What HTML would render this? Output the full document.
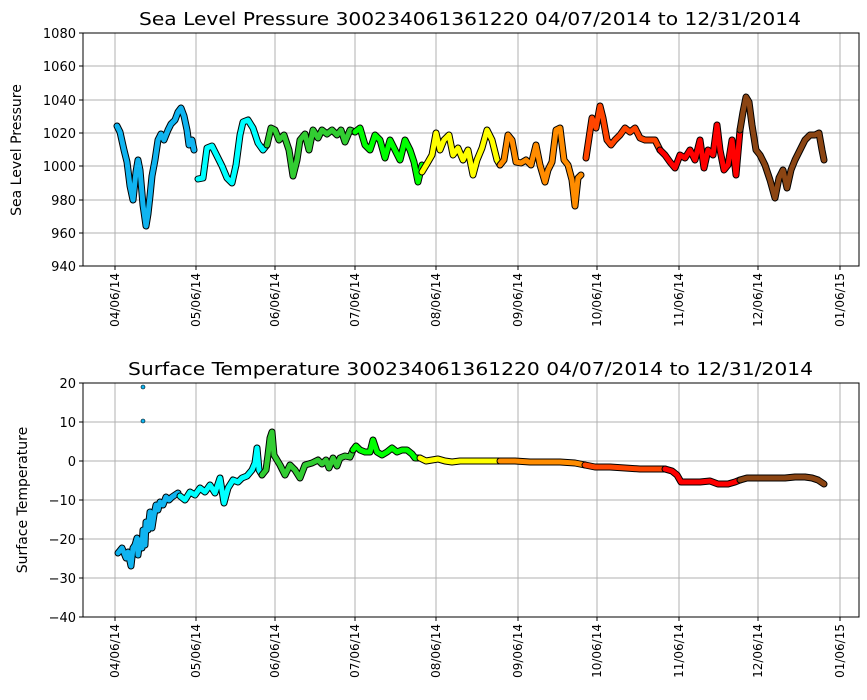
<!DOCTYPE html>
<html><head><meta charset="utf-8"><style>
body{margin:0;background:#fff;}
svg{display:block;font-family:"DejaVu Sans","Liberation Sans",sans-serif;}
.g{stroke:#b0b0b0;stroke-width:1;}
.o{fill:none;stroke:#000;stroke-width:7;stroke-linejoin:round;stroke-linecap:round;}
.c{fill:none;stroke-width:5;stroke-linejoin:round;stroke-linecap:round;}
.tl{font-size:12px;}
.tk{stroke:#000;stroke-width:1;}
</style></head><body>
<svg width="867" height="700" viewBox="0 0 867 700">
<rect width="867" height="700" fill="#fff"/>
<!-- TOP -->
<g class="g">
<line x1="115" y1="33" x2="115" y2="266"/><line x1="196" y1="33" x2="196" y2="266"/><line x1="275" y1="33" x2="275" y2="266"/><line x1="355" y1="33" x2="355" y2="266"/><line x1="436" y1="33" x2="436" y2="266"/><line x1="518" y1="33" x2="518" y2="266"/><line x1="597" y1="33" x2="597" y2="266"/><line x1="679" y1="33" x2="679" y2="266"/><line x1="758" y1="33" x2="758" y2="266"/><line x1="840" y1="33" x2="840" y2="266"/>
<line x1="83" y1="66" x2="859" y2="66"/><line x1="83" y1="100" x2="859" y2="100"/><line x1="83" y1="133" x2="859" y2="133"/><line x1="83" y1="166" x2="859" y2="166"/><line x1="83" y1="200" x2="859" y2="200"/><line x1="83" y1="233" x2="859" y2="233"/>
</g>
<g class="tk">
<line x1="115" y1="266" x2="115" y2="270"/><line x1="196" y1="266" x2="196" y2="270"/><line x1="275" y1="266" x2="275" y2="270"/><line x1="355" y1="266" x2="355" y2="270"/><line x1="436" y1="266" x2="436" y2="270"/><line x1="518" y1="266" x2="518" y2="270"/><line x1="597" y1="266" x2="597" y2="270"/><line x1="679" y1="266" x2="679" y2="270"/><line x1="758" y1="266" x2="758" y2="270"/><line x1="840" y1="266" x2="840" y2="270"/>
<line x1="79" y1="33" x2="83" y2="33"/><line x1="79" y1="66" x2="83" y2="66"/><line x1="79" y1="100" x2="83" y2="100"/><line x1="79" y1="133" x2="83" y2="133"/><line x1="79" y1="166" x2="83" y2="166"/><line x1="79" y1="200" x2="83" y2="200"/><line x1="79" y1="233" x2="83" y2="233"/><line x1="79" y1="266" x2="83" y2="266"/>
</g>
<g id="top">
<path class="o" d="M117,126 120,132 124,150 127,162 130,186 133,200 136,172 138,160 140,170 143,205 146,226 148,214 150,196 152,176 155,160 158,140 161,134 164,140 168,130 171,124 175,120 178,112 181,108 184,116 187,130 189,145 192,140 194,150"/>
<path class="c" stroke="#10b4f0" d="M117,126 120,132 124,150 127,162 130,186 133,200 136,172 138,160 140,170 143,205 146,226 148,214 150,196 152,176 155,160 158,140 161,134 164,140 168,130 171,124 175,120 178,112 181,108 184,116 187,130 189,145 192,140 194,150"/>
<path class="o" d="M198,179 203,178 207,148 212,146 217,156 222,166 227,178 232,183 236,165 240,135 243,122 248,120 253,128 258,143 263,150 267,145"/>
<path class="c" stroke="#00ffff" d="M198,179 203,178 207,148 212,146 217,156 222,166 227,178 232,183 236,165 240,135 243,122 248,120 253,128 258,143 263,150 267,145"/>
<path class="o" d="M267,145 271,128 275,130 279,140 284,135 289,150 293,176 297,160 300,140 305,134 309,150 313,130 318,138 322,130 327,134 332,130 337,135 341,130 345,142 350,130 355,132"/>
<path class="c" stroke="#32cd32" d="M267,145 271,128 275,130 279,140 284,135 289,150 293,176 297,160 300,140 305,134 309,150 313,130 318,138 322,130 327,134 332,130 337,135 341,130 345,142 350,130 355,132"/>
<path class="o" d="M355,132 360,128 365,145 370,150 375,135 380,140 385,158 390,140 395,150 400,160 405,140 410,150 414,162 418,182 422,165"/>
<path class="c" stroke="#00ff00" d="M355,132 360,128 365,145 370,150 375,135 380,140 385,158 390,140 395,150 400,160 405,140 410,150 414,162 418,182 422,165"/>
<path class="o" d="M422,172 428,162 432,155 436,133 440,150 444,140 449,135 453,155 458,148 463,160 468,150 473,175 477,160 482,148 487,130 492,140 497,160 500,165"/>
<path class="c" stroke="#ffff00" d="M422,172 428,162 432,155 436,133 440,150 444,140 449,135 453,155 458,148 463,160 468,150 473,175 477,160 482,148 487,130 492,140 497,160 500,165"/>
<path class="o" d="M500,165 504,160 508,135 512,140 516,162 521,163 526,160 531,165 536,145 540,165 545,182 548,170 552,162 556,130 560,128 564,160 568,165 572,180 575,206 578,178 581,175"/>
<path class="c" stroke="#ff8c00" d="M500,165 504,160 508,135 512,140 516,162 521,163 526,160 531,165 536,145 540,165 545,182 548,170 552,162 556,130 560,128 564,160 568,165 572,180 575,206 578,178 581,175"/>
<path class="o" d="M586,158 589,138 592,118 596,128 600,106 603,118 607,140 611,145 615,140 620,135 625,128 630,132 635,128 640,138 645,140 650,140 655,140 660,150"/>
<path class="c" stroke="#ff4500" d="M586,158 589,138 592,118 596,128 600,106 603,118 607,140 611,145 615,140 620,135 625,128 630,132 635,128 640,138 645,140 650,140 655,140 660,150"/>
<path class="o" d="M660,150 665,155 670,162 675,168 680,155 685,158 690,150 695,160 700,140 704,168 708,150 713,155 717,125 720,150 724,170 728,165 732,140 736,175 740,130"/>
<path class="c" stroke="#ff0000" d="M660,150 665,155 670,162 675,168 680,155 685,158 690,150 695,160 700,140 704,168 708,150 713,155 717,125 720,150 724,170 728,165 732,140 736,175 740,130"/>
<path class="o" d="M740,130 743,112 746,97 749,102 752,125 756,150 760,155 765,165 770,180 775,198 779,178 783,170 787,188 791,170 795,160 800,150 805,140 810,135 815,135 819,133 822,150 824,160"/>
<path class="c" stroke="#8b4513" d="M740,130 743,112 746,97 749,102 752,125 756,150 760,155 765,165 770,180 775,198 779,178 783,170 787,188 791,170 795,160 800,150 805,140 810,135 815,135 819,133 822,150 824,160"/>
</g>
<rect x="83" y="33" width="776" height="233" fill="none" stroke="#000" stroke-width="1"/>
<g font-size="13" text-anchor="end">
<text x="76" y="38">1080</text><text x="76" y="71">1060</text><text x="76" y="105">1040</text><text x="76" y="138">1020</text><text x="76" y="171">1000</text><text x="76" y="205">980</text><text x="76" y="238">960</text><text x="76" y="271">940</text>
</g>
<text x="21" y="150" font-size="14" text-anchor="middle" transform="rotate(-90 21 150)">Sea Level Pressure</text>
<text x="139" y="25" font-size="18" textLength="662" lengthAdjust="spacingAndGlyphs">Sea Level Pressure 300234061361220  04/07/2014 to 12/31/2014</text>
<g class="tl" text-anchor="end">
<text transform="translate(119,273) rotate(-90)">04/06/14</text><text transform="translate(200,273) rotate(-90)">05/06/14</text><text transform="translate(279,273) rotate(-90)">06/06/14</text><text transform="translate(359,273) rotate(-90)">07/06/14</text><text transform="translate(440,273) rotate(-90)">08/06/14</text><text transform="translate(522,273) rotate(-90)">09/06/14</text><text transform="translate(601,273) rotate(-90)">10/06/14</text><text transform="translate(683,273) rotate(-90)">11/06/14</text><text transform="translate(762,273) rotate(-90)">12/06/14</text><text transform="translate(844,273) rotate(-90)">01/06/15</text>
</g>
<!-- BOTTOM -->
<g class="g">
<line x1="115" y1="383" x2="115" y2="617"/><line x1="196" y1="383" x2="196" y2="617"/><line x1="275" y1="383" x2="275" y2="617"/><line x1="355" y1="383" x2="355" y2="617"/><line x1="436" y1="383" x2="436" y2="617"/><line x1="518" y1="383" x2="518" y2="617"/><line x1="597" y1="383" x2="597" y2="617"/><line x1="679" y1="383" x2="679" y2="617"/><line x1="758" y1="383" x2="758" y2="617"/><line x1="840" y1="383" x2="840" y2="617"/>
<line x1="83" y1="422" x2="859" y2="422"/><line x1="83" y1="461" x2="859" y2="461"/><line x1="83" y1="500" x2="859" y2="500"/><line x1="83" y1="539" x2="859" y2="539"/><line x1="83" y1="578" x2="859" y2="578"/>
</g>
<g class="tk">
<line x1="115" y1="617" x2="115" y2="621"/><line x1="196" y1="617" x2="196" y2="621"/><line x1="275" y1="617" x2="275" y2="621"/><line x1="355" y1="617" x2="355" y2="621"/><line x1="436" y1="617" x2="436" y2="621"/><line x1="518" y1="617" x2="518" y2="621"/><line x1="597" y1="617" x2="597" y2="621"/><line x1="679" y1="617" x2="679" y2="621"/><line x1="758" y1="617" x2="758" y2="621"/><line x1="840" y1="617" x2="840" y2="621"/>
<line x1="79" y1="383" x2="83" y2="383"/><line x1="79" y1="422" x2="83" y2="422"/><line x1="79" y1="461" x2="83" y2="461"/><line x1="79" y1="500" x2="83" y2="500"/><line x1="79" y1="539" x2="83" y2="539"/><line x1="79" y1="578" x2="83" y2="578"/><line x1="79" y1="617" x2="83" y2="617"/>
</g>
<path class="o" d="M118,553 122,548 126,558 128,552 131,566 133,548 135,545 137,538 138,555 140,540 142,548 143,530 145,545 146,522 148,530 150,512 152,528 154,515 156,505 158,510 160,502 163,505 166,497 169,500 172,497 175,495 178,493"/>
<path class="c" stroke="#10b4f0" stroke-width="6" d="M118,553 122,548 126,558 128,552 131,566 133,548 135,545 137,538 138,555 140,540 142,548 143,530 145,545 146,522 148,530 150,512 152,528 154,515 156,505 158,510 160,502 163,505 166,497 169,500 172,497 175,495 178,493"/>
<circle cx="143" cy="387" r="2" fill="#10b4f0" stroke="#000" stroke-width="0.6"/>
<circle cx="143" cy="421" r="2" fill="#10b4f0" stroke="#000" stroke-width="0.6"/>
<path class="o" d="M180,496 185,500 190,492 195,495 200,488 205,492 210,485 215,493 220,478 224,503 228,488 233,480 238,482 242,478 247,476 252,470 255,463 257,448 259,470 262,475"/>
<path class="c" stroke="#00ffff" d="M180,496 185,500 190,492 195,495 200,488 205,492 210,485 215,493 220,478 224,503 228,488 233,480 238,482 242,478 247,476 252,470 255,463 257,448 259,470 262,475"/>
<path class="o" d="M262,475 266,470 268,455 270,438 272,432 274,455 277,460 280,465 285,475 290,465 295,470 300,478 305,465 312,463 318,460 322,464 326,460 329,468 333,458 337,466 340,458 345,456 350,457 353,450"/>
<path class="c" stroke="#32cd32" d="M262,475 266,470 268,455 270,438 272,432 274,455 277,460 280,465 285,475 290,465 295,470 300,478 305,465 312,463 318,460 322,464 326,460 329,468 333,458 337,466 340,458 345,456 350,457 353,450"/>
<path class="o" d="M353,450 356,446 360,450 365,452 370,452 373,440 377,452 382,455 387,452 392,448 397,452 402,450 407,450 412,454 415,458 420,458"/>
<path class="c" stroke="#00ff00" d="M353,450 356,446 360,450 365,452 370,452 373,440 377,452 382,455 387,452 392,448 397,452 402,450 407,450 412,454 415,458 420,458"/>
<path class="o" d="M420,458 426,461 432,460 438,459 445,461 452,462 460,461 470,461 480,461 490,461 500,461"/>
<path class="c" stroke="#ffff00" d="M420,458 426,461 432,460 438,459 445,461 452,462 460,461 470,461 480,461 490,461 500,461"/>
<path class="o" d="M500,461 515,461 530,462 545,462 560,462 575,463 585,465"/>
<path class="c" stroke="#ff8c00" d="M500,461 515,461 530,462 545,462 560,462 575,463 585,465"/>
<path class="o" d="M585,465 595,467 610,467 625,468 640,469 655,469 665,469"/>
<path class="c" stroke="#ff4500" d="M585,465 595,467 610,467 625,468 640,469 655,469 665,469"/>
<path class="o" d="M665,469 672,471 677,475 681,482 690,482 700,482 710,481 718,484 728,484 735,482 740,480"/>
<path class="c" stroke="#ff0000" d="M665,469 672,471 677,475 681,482 690,482 700,482 710,481 718,484 728,484 735,482 740,480"/>
<path class="o" d="M740,480 747,478 755,478 765,478 775,478 785,478 795,477 805,477 812,478 818,480 824,484"/>
<path class="c" stroke="#8b4513" d="M740,480 747,478 755,478 765,478 775,478 785,478 795,477 805,477 812,478 818,480 824,484"/>
<rect x="83" y="383" width="776" height="234" fill="none" stroke="#000" stroke-width="1"/>
<g font-size="13" text-anchor="end">
<text x="76" y="388">20</text><text x="76" y="427">10</text><text x="76" y="466">0</text><text x="76" y="505">−10</text><text x="76" y="544">−20</text><text x="76" y="583">−30</text><text x="76" y="622">−40</text>
</g>
<text x="27" y="500" font-size="14" text-anchor="middle" transform="rotate(-90 27 500)">Surface Temperature</text>
<text x="128" y="375" font-size="18" textLength="685" lengthAdjust="spacingAndGlyphs">Surface Temperature 300234061361220  04/07/2014 to 12/31/2014</text>
<g class="tl" text-anchor="end">
<text transform="translate(119,624) rotate(-90)">04/06/14</text><text transform="translate(200,624) rotate(-90)">05/06/14</text><text transform="translate(279,624) rotate(-90)">06/06/14</text><text transform="translate(359,624) rotate(-90)">07/06/14</text><text transform="translate(440,624) rotate(-90)">08/06/14</text><text transform="translate(522,624) rotate(-90)">09/06/14</text><text transform="translate(601,624) rotate(-90)">10/06/14</text><text transform="translate(683,624) rotate(-90)">11/06/14</text><text transform="translate(762,624) rotate(-90)">12/06/14</text><text transform="translate(844,624) rotate(-90)">01/06/15</text>
</g>
</svg>
</body></html>
